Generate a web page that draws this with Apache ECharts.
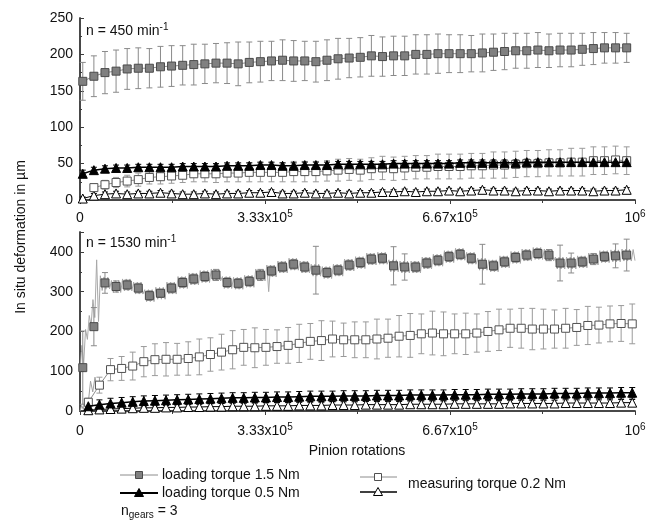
<!DOCTYPE html>
<html><head><meta charset="utf-8">
<script src="https://cdn.jsdelivr.net/npm/echarts@6/dist/echarts.min.js"></script>
<style>html,body{margin:0;padding:0;background:#fff}#c{width:657px;height:520px}</style>
</head><body><div id="c"></div>
<script>
// ---------------- data ----------------
const xTickLabels = ['0', '3.33x10^5', '6.67x10^5', '10^6'];
// pinion rotations of the averaged points
const xGrid = [5000,25000,45000,65000,85000,105000,125000,145000,165000,185000,
  205000,225000,245000,265000,285000,305000,325000,345000,365000,385000,
  405000,425000,445000,465000,485000,505000,525000,545000,565000,585000,
  605000,625000,645000,665000,685000,705000,725000,745000,765000,785000,
  805000,825000,845000,865000,885000,905000,925000,945000,965000,985000];

// top panel n = 450 min-1
const topLoad15 = [163,170,175,177,180,181,181,183,184,185,186,187,188,188,187,189,190,191,192,191,
  191,190,192,194,195,196,198,197,198,198,200,200,201,201,201,201,202,203,204,205,
  205,206,205,206,206,207,208,209,209,209];
const topLoad15Err = [26,28,29,29,28,28,27,28,28,27,28,27,27,28,30,28,28,27,28,28,
  27,28,28,28,27,27,28,27,27,27,27,27,27,26,26,25,26,25,25,24,
  24,24,23,23,23,22,22,21,21,20];
const topLoad05 = [36,41,43,44,44,45,45,45,45,46,46,46,46,47,47,47,48,48,47,47,
  48,48,48,49,49,49,49,49,50,50,50,50,50,50,51,51,51,51,51,51,
  52,52,52,52,52,52,52,52,52,52];
const topLoad05Err = [5,4,4,4,4,4,4,4,4,4,4,4,4,4,4,4,4,4,4,4,4,4,4,4,4,4,4,4,4,4,
  4,4,4,4,4,4,4,4,4,4,4,4,4,4,4,4,4,4,4,4];
const topMeas15 = [null,17,21,24,26,28,31,32,33,34,36,36,36,37,37,38,38,38,38,39,
  39,39,40,41,42,41,43,44,43,44,45,45,46,46,46,47,47,48,48,49,
  50,50,51,51,52,52,54,54,55,54];
const topMeas15Err = [null,5,6,7,8,9,9,10,10,10,11,11,12,12,12,13,13,13,13,14,
  14,14,14,15,15,15,15,16,16,16,16,16,17,17,17,17,17,18,18,18,
  18,18,18,18,19,19,19,19,19,19];
const topMeas05 = [2,6,8,9,8,9,9,10,9,8,8,9,8,9,9,10,10,11,9,9,10,9,9,
  10,9,10,10,11,11,12,11,12,12,13,12,13,14,13,13,12,13,13,12,13,13,13,12,13,13,14];
const topMeas05Err = [2,3,3,3,3,3,3,3,3,3,3,3,3,3,3,3,3,3,3,3,3,3,3,3,3,
  3,3,3,3,3,3,3,3,3,3,3,3,3,3,3,3,3,3,3,3,3,3,3,3,3];

// bottom panel n = 1530 min-1
const botLoad15 = [109,212,322,313,317,309,290,296,309,323,332,338,342,323,321,326,342,352,362,369,
  362,354,348,354,367,373,382,384,365,362,362,372,379,388,394,384,369,365,375,386,
  392,396,392,372,372,375,382,388,390,392];
const botLoad15Err = [92,48,26,14,12,12,12,10,12,12,12,12,14,12,12,12,14,12,12,12,
  12,60,12,12,12,12,12,12,48,33,12,12,12,12,12,12,50,12,12,12,
  12,12,14,45,25,12,14,12,30,40];
// raw (unaveraged) loading-torque trace, sampled every 1e6/300 rotations
const botLoad15Raw = [100,165,120,205,180,240,215,280,235,380,225,
  340,303,337,306,336,307, 328,298,328,298,328,298, 332,302,332,302,332,302,
  324,294,324,294,324,294, 305,275,305,275,305,275, 311,281,311,281,311,281,
  324,294,324,294,324,294, 338,308,338,308,338,308, 347,317,347,317,347,317,
  353,323,353,323,353,323, 357,327,357,327,357,327, 338,308,338,308,338,308,
  336,306,336,306,336,306, 341,311,341,311,341,311, 357,327,357,327,357,327,
  367,300,367,337,367,337, 377,347,377,347,377,347, 384,354,384,354,384,354,
  377,347,377,347,377,347, 369,339,369,339,369,339, 363,333,363,333,363,333,
  369,339,369,339,369,339, 382,352,382,352,382,352, 388,358,388,358,388,358,
  397,367,397,367,397,367, 399,369,399,369,399,369, 380,350,380,350,380,350,
  377,347,377,347,377,347, 377,347,377,347,377,347, 387,357,387,357,387,357,
  394,364,394,364,394,364, 403,373,403,373,403,373, 409,379,409,379,409,379,
  399,369,399,369,399,369, 384,354,384,354,384,354, 380,350,380,350,380,350,
  390,360,390,360,390,360, 401,371,401,371,401,371, 407,377,407,377,407,377,
  411,381,411,381,411,381, 407,377,407,377,407,377, 387,357,387,357,387,357,
  387,357,387,357,387,357, 390,360,390,360,390,360, 397,367,397,367,397,367,
  403,373,403,373,403,373, 405,375,405,375,405,375, 407,377,407,377,407,377,
  406,378];
const botMeas15 = [22,65,104,107,113,124,129,130,130,132,136,142,148,154,160,159,160,162,165,170,
  175,177,181,179,179,179,181,183,188,190,194,196,194,194,194,196,200,204,208,208,
  206,206,206,208,210,215,216,219,220,219];
const botMeas15Err = [10,20,28,30,35,38,40,42,40,42,45,42,45,48,45,50,45,42,45,48,
  45,50,45,42,45,45,50,48,52,55,50,55,55,50,52,48,50,52,48,50,
  52,50,48,50,45,48,45,45,45,50];
const botMeas15EarlyX = [0,3000,6000,9000,12000,15000,19000,23000,27000,31000,35000];
const botMeas15EarlyY = [0,14,4,32,12,22,75,48,85,55,65];
const botLoad05 = [12,16,19,21,23,25,26,27,28,29,30,31,32,33,33,34,34,35,35,36,
  37,37,37,38,38,38,39,39,39,40,40,40,40,41,41,41,42,42,42,43,
  43,43,44,44,44,45,45,45,46,46];
const botLoad05Err = [8,12,13,13,13,13,13,13,13,13,13,13,13,13,13,13,13,13,13,13,
  13,13,13,13,13,13,13,13,13,13,13,13,13,13,13,13,13,13,13,13,
  13,13,13,13,13,13,13,13,13,13];
const botMeas05 = [2,4,5,6,7,8,8,9,9,10,10,11,11,12,12,12,13,13,13,14,
  14,14,15,15,15,16,16,16,16,17,17,17,17,18,18,18,18,18,19,19,
  19,19,19,20,20,20,20,20,21,21];
const botMeas05Err = [4,6,7,8,8,8,8,8,8,8,8,8,8,8,8,8,8,8,8,8,8,8,8,8,8,
  8,8,8,8,8,8,8,8,8,8,8,8,8,8,8,8,8,8,8,8,8,8,8,8,8];

// ---------------- chart ----------------
const FF = '"Liberation Sans", Arial, Helvetica, sans-serif';
const AX = '#3c3c3c';
const botShift = 10000;
const rawStep = 1e6 / 300;

function pts(xs, ys, off) {
  const out = [];
  ys.forEach((y, i) => { if (y != null) out.push([xs[i] + off, y]); });
  return out;
}
function errPts(xs, ys, es, off) {
  const out = [];
  ys.forEach((y, i) => { if (y != null && es[i] != null) out.push([xs[i] + off, y - es[i], y + es[i]]); });
  return out;
}
function errSeries(gi, data, color, z) {
  return {
    type: 'custom', xAxisIndex: gi * 2, yAxisIndex: gi * 2, z: z, silent: true,
    encode: { x: 0, y: [1, 2] },
    data: data,
    renderItem: function (params, api) {
      const x = api.value(0);
      const a = api.coord([x, api.value(1)]);
      const b = api.coord([x, api.value(2)]);
      const w = 3, st = { stroke: color, lineWidth: 1 };
      return { type: 'group', children: [
        { type: 'line', shape: { x1: a[0], y1: a[1], x2: b[0], y2: b[1] }, style: st },
        { type: 'line', shape: { x1: a[0] - w, y1: a[1], x2: a[0] + w, y2: a[1] }, style: st },
        { type: 'line', shape: { x1: b[0] - w, y1: b[1], x2: b[0] + w, y2: b[1] }, style: st }
      ]};
    }
  };
}
const symA = { symbol: 'rect', symbolSize: 8, itemStyle: { color: '#808080', borderColor: '#4a4a4a', borderWidth: 1 } };
const symC = { symbol: 'rect', symbolSize: 8, itemStyle: { color: '#ffffff', borderColor: '#505050', borderWidth: 1 } };
const symB = { symbol: 'triangle', symbolSize: 9, itemStyle: { color: '#000000', borderColor: '#000', borderWidth: 1 } };
const symD = { symbol: 'triangle', symbolSize: 9, itemStyle: { color: '#ffffff', borderColor: '#000', borderWidth: 1 } };

function lineSeries(gi, data, sym, lineColor, lineWidth, z, showLine) {
  return Object.assign({
    type: 'line', xAxisIndex: gi * 2, yAxisIndex: gi * 2, data: data, z: z,
    showAllSymbol: true, animation: false, silent: true,
    lineStyle: { color: lineColor, width: lineWidth, opacity: showLine === false ? 0 : 1 }
  }, sym);
}

function xLabel(v) {
  const i = Math.round(v / (1e6 / 3));
  const s = xTickLabels[i];
  if (s === undefined || Math.abs(v - i * 1e6 / 3) > 1) return '';
  const p = s.split('^');
  return p.length > 1 ? '{b|' + p[0] + '}{sup|' + p[1] + '}' : '{b|' + p[0] + '}';
}
const richLab = {
  b: { fontSize: 14, fontFamily: FF, color: '#111', lineHeight: 18 },
  sup: { fontSize: 10, fontFamily: FF, color: '#111', lineHeight: 10, verticalAlign: 'top' }
};
function mkX(gi, margin) {
  return [{
    gridIndex: gi, type: 'value', min: 0, max: 1e6, interval: 1e6 / 3, position: 'bottom',
    axisLine: { lineStyle: { color: AX, width: 1.5 } },
    axisTick: { show: true, length: 4, lineStyle: { color: AX } },
    minorTick: { show: true, splitNumber: 2, length: 3, lineStyle: { color: AX } },
    axisLabel: { formatter: xLabel, rich: richLab, margin: margin, showMaxLabel: true, showMinLabel: true },
    splitLine: { show: false }
  }, {
    gridIndex: gi, type: 'value', min: 0, max: 1e6, position: 'top',
    axisLine: { lineStyle: { color: AX, width: 1.5 } },
    axisTick: { show: false }, axisLabel: { show: false }, splitLine: { show: false }
  }];
}
function mkY(gi, max, interval) {
  return [{
    gridIndex: gi, type: 'value', min: 0, max: max, interval: interval, position: 'left',
    axisLine: { show: true, lineStyle: { color: AX, width: 1.5 } },
    axisTick: { show: true, inside: true, length: 4, lineStyle: { color: AX } },
    minorTick: { show: true, splitNumber: 2, length: 2, lineStyle: { color: AX } },
    axisLabel: { fontSize: 14, fontFamily: FF, color: '#111', margin: 7, showMaxLabel: max % interval === 0 },
    splitLine: { show: false }
  }, {
    gridIndex: gi, type: 'value', min: 0, max: max, position: 'right',
    axisLine: { show: true, lineStyle: { color: AX, width: 1.5 } },
    axisTick: { show: false }, axisLabel: { show: false }, splitLine: { show: false }
  }];
}

const rawX = botLoad15Raw.map((_, i) => i * rawStep);

const series = [
  // top panel
  errSeries(0, errPts(xGrid, topLoad15, topLoad15Err, 0), '#8a8a8a', 2),
  errSeries(0, errPts(xGrid, topMeas15, topMeas15Err, 0), '#9a9a9a', 2),
  errSeries(0, errPts(xGrid, topLoad05, topLoad05Err, 0), '#000', 2),
  errSeries(0, errPts(xGrid, topMeas05, topMeas05Err, 0), '#000', 2),
  lineSeries(0, pts(xGrid, topMeas05, 0), symD, '#000', 1, 3),
  lineSeries(0, pts(xGrid, topMeas15, 0), symC, '#8c8c8c', 1, 4),
  lineSeries(0, pts(xGrid, topLoad05, 0), symB, '#000', 1.5, 5),
  lineSeries(0, pts(xGrid, topLoad15, 0), symA, '#8c8c8c', 1, 6),
  // bottom panel
  { type: 'line', xAxisIndex: 2, yAxisIndex: 2, data: pts(rawX, botLoad15Raw, 0), symbol: 'none', z: 1,
    lineStyle: { color: '#a8a8a8', width: 1 }, silent: true, animation: false },
  { type: 'line', xAxisIndex: 2, yAxisIndex: 2, data: pts(botMeas15EarlyX, botMeas15EarlyY, 0), symbol: 'none', z: 1,
    lineStyle: { color: '#a0a0a0', width: 1 }, silent: true, animation: false },
  errSeries(1, errPts(xGrid, botLoad15, botLoad15Err, 0), '#8a8a8a', 2),
  errSeries(1, errPts(xGrid, botMeas15, botMeas15Err, botShift), '#9a9a9a', 2),
  errSeries(1, errPts(xGrid, botLoad05, botLoad05Err, botShift), '#000', 2),
  errSeries(1, errPts(xGrid, botMeas05, botMeas05Err, botShift), '#000', 2),
  lineSeries(1, pts(xGrid, botMeas05, botShift), symD, '#000', 1, 3),
  lineSeries(1, pts(xGrid, botMeas15, botShift), symC, '#8c8c8c', 1, 4),
  lineSeries(1, pts(xGrid, botLoad05, botShift), symB, '#000', 1.5, 5),
  lineSeries(1, pts(xGrid, botLoad15, 0), symA, '#8c8c8c', 1, 6, false)
];

function txt(x, y, text, extra) {
  return Object.assign({ type: 'text', x: x, y: y, silent: true,
    style: Object.assign({ text: text, fontSize: 14, fontFamily: FF, fill: '#111',
      align: 'left', verticalAlign: 'middle', textAlign: 'left', textVerticalAlign: 'middle' }, extra || {}) });
}
const supRich = {
  b: { fontSize: 14, fontFamily: FF, lineHeight: 18 },
  sup: { fontSize: 10, fontFamily: FF, lineHeight: 10, verticalAlign: 'top' },
  sub: { fontSize: 10, fontFamily: FF, lineHeight: 10, verticalAlign: 'bottom' }
};
function sq(cx, cy, fill, stroke) {
  return { type: 'rect', shape: { x: cx - 3.5, y: cy - 3.5, width: 7, height: 7 }, style: { fill: fill, stroke: stroke, lineWidth: 1 }, silent: true };
}
function tri(cx, cy, fill) {
  return { type: 'polygon', shape: { points: [[cx, cy - 4.5], [cx + 4.5, cy + 3.5], [cx - 4.5, cy + 3.5]] }, style: { fill: fill, stroke: '#000', lineWidth: 1 }, silent: true };
}
function ln(x1, x2, y, color, w) {
  return { type: 'line', shape: { x1: x1, y1: y, x2: x2, y2: y }, style: { stroke: color, lineWidth: w }, silent: true };
}

const graphic = [
  Object.assign(txt(21, 237, 'In situ deformation in µm', { align: 'center', textAlign: 'center' }), { rotation: Math.PI / 2 }),
  txt(357, 451, 'Pinion rotations', { align: 'center', textAlign: 'center' }),
  txt(86, 31, '{b|n = 450 min}{sup|-1}', { rich: supRich }),
  txt(86, 243, '{b|n = 1530 min}{sup|-1}', { rich: supRich }),
  // legend
  ln(120, 158, 475, '#8c8c8c', 1), sq(139, 475, '#808080', '#4a4a4a'),
  txt(162, 475, 'loading torque 1.5 Nm'),
  ln(120, 158, 493, '#000', 2), tri(139, 493, '#000'),
  txt(162, 493, 'loading torque 0.5 Nm'),
  txt(121, 511, '{b|n}{sub|gears}{b| = 3}', { rich: supRich }),
  ln(360, 397, 477, '#8c8c8c', 1), sq(378, 477, '#ffffff', '#505050'),
  ln(360, 397, 492, '#000', 1.5), tri(378, 492, '#ffffff'),
  txt(408, 484, 'measuring torque 0.2 Nm')
];

const chart = echarts.init(document.getElementById('c'), null, { renderer: 'canvas' });
chart.setOption({
  animation: false,
  backgroundColor: '#fff',
  grid: [
    { left: 80, top: 18, width: 555, height: 182 },
    { left: 80, top: 232, width: 555, height: 179 }
  ],
  xAxis: mkX(0, 9).concat(mkX(1, 11)),
  yAxis: mkY(0, 250, 50).concat(mkY(1, 450, 100)),
  series: series,
  graphic: graphic
});
</script></body></html>
